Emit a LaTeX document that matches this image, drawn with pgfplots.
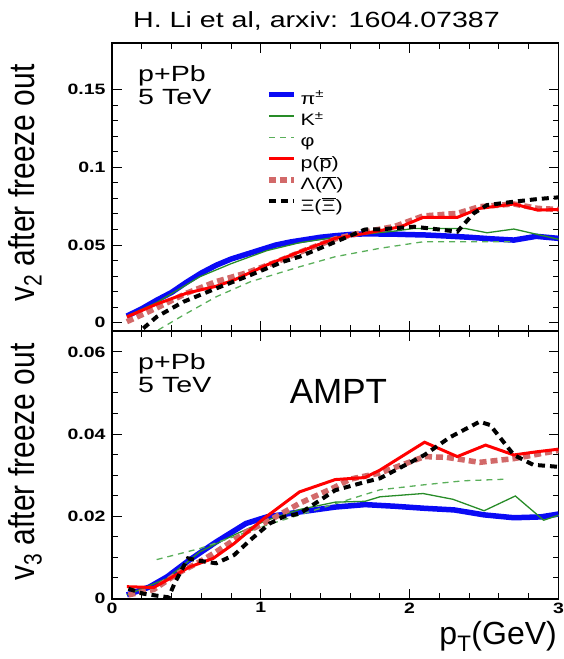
\documentclass[border=0pt]{standalone}
\usepackage{graphicx}
\usepackage{fontspec}
\setmainfont{Liberation Sans}
\usepackage{pgfplots}
\pgfplotsset{compat=1.18}
\definecolor{piblue}{RGB}{10,10,245}
\definecolor{kgreen}{RGB}{40,140,40}
\definecolor{phigreen}{RGB}{90,175,90}
\definecolor{pred}{RGB}{255,0,0}
\definecolor{lampink}{RGB}{210,105,105}
\newcommand{\sx}[1]{\scalebox{1.3}[1]{#1}}
\newcommand{\tfont}{\fontsize{15}{15}\selectfont\bfseries}
\newcommand{\lfont}{\fontsize{16.5}{16.5}\selectfont}
\begin{document}
\begin{tikzpicture}
\useasboundingbox (0pt,0pt) rectangle (564pt,659pt);
\pgfplotsset{
  panel/.style={
    scale only axis, width=446.5pt,
    xmin=0, xmax=3, xtick={0,1,2,3}, minor x tick num=4,
    xtick pos=both, ytick pos=both, tick align=inside,
    major tick length=10pt, minor tick length=6pt,
    axis line style={line width=1.5pt},
    tick style={black, line width=1pt},
    scaled ticks=false,
    /pgf/number format/assume math mode=true,
    yticklabel={\tfont\sx{\pgfmathprintnumber[fixed,precision=2]{\tick}}},
    xticklabel={\tfont\sx{\pgfmathprintnumber{\tick}}},
    yticklabel style={xshift=-3pt},
  },
  spi/.style={piblue, line width=5.5pt},
  sk/.style={kgreen, line width=1.3pt},
  sphi/.style={phigreen, line width=1.3pt, dash pattern=on 6pt off 5pt},
  sp/.style={pred, line width=3pt},
  slam/.style={lampink, line width=5.5pt, dash pattern=on 7pt off 4pt},
  sxi/.style={black, line width=4pt, dash pattern=on 7pt off 5pt},
}
% ---------------- top panel: v2 ----------------
\begin{axis}[panel, at={(112pt,328pt)}, anchor=south west, height=288pt,
  ymin=-0.0053, ymax=0.18, ytick={0,0.05,0.1,0.15}, minor y tick num=4,
  xticklabels={},
  legend style={at={(axis cs:1.035,0.1486)}, anchor=north west, draw=none, fill=none,
    inner sep=0pt, outer sep=0pt, column sep=4pt, row sep=5.3pt,
    nodes={inner sep=0pt, text height=12pt, text depth=4pt}},
  legend cell align=left,
  legend image code/.code={\draw[#1] (0pt,5.6pt) -- (25pt,5.6pt);},
]
\addplot[spi] coordinates {(0.1,0.0043)(0.2,0.009)(0.3,0.0145)(0.4,0.0195)(0.5,0.026)(0.6,0.032)(0.7,0.037)(0.8,0.041)(0.9,0.044)(1.0,0.047)(1.1,0.050)(1.2,0.052)(1.3,0.0535)(1.4,0.055)(1.5,0.056)(1.6,0.0568)(1.7,0.0572)(1.8,0.0571)(1.9,0.057)(2.0,0.0567)(2.1,0.0565)(2.25,0.0558)(2.4,0.055)(2.55,0.054)(2.7,0.0532)(2.85,0.0556)(3.0,0.0543)};
\addlegendentry{\lfont\sx{π\textsuperscript{±}}}
\addplot[sk] coordinates {(0.1,0.0043)(0.3,0.013)(0.59,0.0296)(0.8,0.038)(1.04,0.0464)(1.26,0.0515)(1.5,0.055)(1.7,0.057)(1.9,0.059)(2.03,0.0607)(2.37,0.0607)(2.52,0.0579)(2.7,0.0603)(3.0,0.0537)};
\addlegendentry{\lfont\sx{K\textsuperscript{±}}}
\addplot[sphi] coordinates {(0.31,-0.0047)(0.48,0.0049)(0.7,0.0167)(0.93,0.0264)(1.15,0.0328)(1.26,0.036)(1.5,0.0425)(1.8,0.0479)(2.09,0.0521)(2.7,0.0521)};
\addlegendentry{\lfont\sx{φ}}
\addplot[slam, forget plot] coordinates {(0.1,0.0007)(0.3,0.0095)(0.5,0.019)(0.7,0.0265)(0.9,0.032)(1.1,0.039)(1.3,0.0468)(1.5,0.054)(1.7,0.0585)(1.9,0.062)(2.09,0.0687)(2.32,0.0704)(2.47,0.0747)(2.7,0.0764)(2.86,0.0736)(3.0,0.0729)};
\addplot[sp] coordinates {(0.1,0.0038)(0.3,0.012)(0.5,0.019)(0.7,0.0235)(0.82,0.0275)(1.04,0.0372)(1.26,0.0457)(1.5,0.0543)(1.7,0.0575)(1.94,0.0618)(2.09,0.0678)(2.32,0.0678)(2.47,0.0736)(2.7,0.0764)(2.86,0.0725)(3.0,0.0729)};
\addlegendentry{\lfont\sx{p($\overline{\mbox{p}}$)}}
\addlegendimage{slam}
\addlegendentry{\lfont\sx{Λ($\overline{\mbox{Λ}}$)}}
\addplot[sxi] coordinates {(0.21,-0.0036)(0.3,0.0038)(0.48,0.0135)(0.7,0.0221)(0.93,0.0307)(1.15,0.0393)(1.26,0.0425)(1.5,0.052)(1.7,0.060)(1.8,0.0601)(2.03,0.0618)(2.2,0.060)(2.32,0.0586)(2.43,0.0704)(2.52,0.0757)(2.7,0.0779)(2.86,0.0796)(3.0,0.0807)};
\addlegendentry{\lfont\sx{Ξ($\overline{\mbox{Ξ}}$)}}
\end{axis}
% ---------------- bottom panel: v3 ----------------
\begin{axis}[panel, at={(112pt,60pt)}, anchor=south west, height=268pt,
  ymin=-0.0002, ymax=0.0651, ytick={0,0.02,0.04,0.06}, minor y tick num=3,
]
\addplot[spi] coordinates {(0.1,0.0008)(0.25,0.0027)(0.37,0.0052)(0.52,0.0093)(0.7,0.0137)(0.9,0.0182)(1.04,0.0198)(1.26,0.021)(1.5,0.0222)(1.7,0.0228)(1.9,0.0224)(2.1,0.0219)(2.3,0.0215)(2.5,0.0203)(2.7,0.0196)(2.88,0.0198)(3.0,0.0205)};
\addplot[sk] coordinates {(0.1,0.0008)(0.37,0.0048)(0.59,0.0113)(0.82,0.0154)(1.04,0.019)(1.26,0.0216)(1.5,0.0234)(1.7,0.0236)(1.8,0.0247)(2.09,0.0255)(2.29,0.0241)(2.5,0.0213)(2.71,0.0249)(2.9,0.019)(3.0,0.0202)};
\addplot[sphi] coordinates {(0.3,0.0094)(0.59,0.0121)(0.82,0.015)(1.04,0.0178)(1.26,0.0203)(1.5,0.023)(1.8,0.0264)(2.09,0.0276)(2.36,0.0286)(2.65,0.029)};
\addplot[slam] coordinates {(0.11,0.0008)(0.28,0.0021)(0.44,0.006)(0.59,0.0089)(0.7,0.0113)(0.9,0.0161)(1.06,0.019)(1.26,0.0231)(1.5,0.0271)(1.6,0.029)(1.8,0.0305)(2.1,0.0345)(2.25,0.0343)(2.47,0.0331)(2.7,0.034)(3.0,0.036)};
\addplot[sp] coordinates {(0.1,0.0028)(0.28,0.0026)(0.37,0.0044)(0.52,0.0076)(0.68,0.0097)(0.82,0.0133)(1.02,0.0194)(1.26,0.0259)(1.5,0.0289)(1.7,0.0294)(1.8,0.0312)(2.1,0.038)(2.32,0.0345)(2.51,0.0373)(2.7,0.0349)(2.86,0.0357)(3.0,0.0363)};
\addplot[sxi] coordinates {(0.11,0.0023)(0.21,0.0011)(0.38,0.0002)(0.42,0.0036)(0.51,0.0097)(0.59,0.0091)(0.7,0.0085)(0.82,0.0105)(0.93,0.0142)(1.06,0.0182)(1.15,0.0198)(1.26,0.0206)(1.5,0.0263)(1.7,0.0283)(1.8,0.0292)(2.1,0.0349)(2.27,0.0392)(2.47,0.043)(2.54,0.0422)(2.7,0.0349)(2.83,0.0325)(3.0,0.032)};
\end{axis}
% ---------------- texts ----------------
\node[anchor=base] at (316.5pt,631.7pt) {\sx{\fontsize{22}{22}\selectfont H. Li et al, arxiv: 1604.07387}};
\node[rotate=90] at (25pt,476pt) {\scalebox{1}[1.2]{\fontsize{30}{30}\selectfont v\textsubscript{2} after freeze out}};
\node[rotate=90] at (25pt,197pt) {\scalebox{1}[1.2]{\fontsize{30}{30}\selectfont v\textsubscript{3} after freeze out}};
\node[anchor=base west, inner sep=0pt] at (138pt,577pt) {\sx{\fontsize{22}{22}\selectfont p+Pb}};
\node[anchor=base west, inner sep=0pt] at (138pt,554pt) {\sx{\fontsize{22}{22}\selectfont 5 TeV}};
\node[anchor=base west, inner sep=0pt] at (138pt,289pt) {\sx{\fontsize{22}{22}\selectfont p+Pb}};
\node[anchor=base west, inner sep=0pt] at (138pt,266pt) {\sx{\fontsize{22}{22}\selectfont 5 TeV}};
\node[anchor=base, inner sep=0pt] at (338.5pt,255pt) {\fontsize{35}{35}\selectfont AMPT};
\node[anchor=base east, inner sep=0pt] at (557pt,14pt) {\fontsize{32}{32}\selectfont p\textsubscript{T}(GeV)};
\end{tikzpicture}
\end{document}
